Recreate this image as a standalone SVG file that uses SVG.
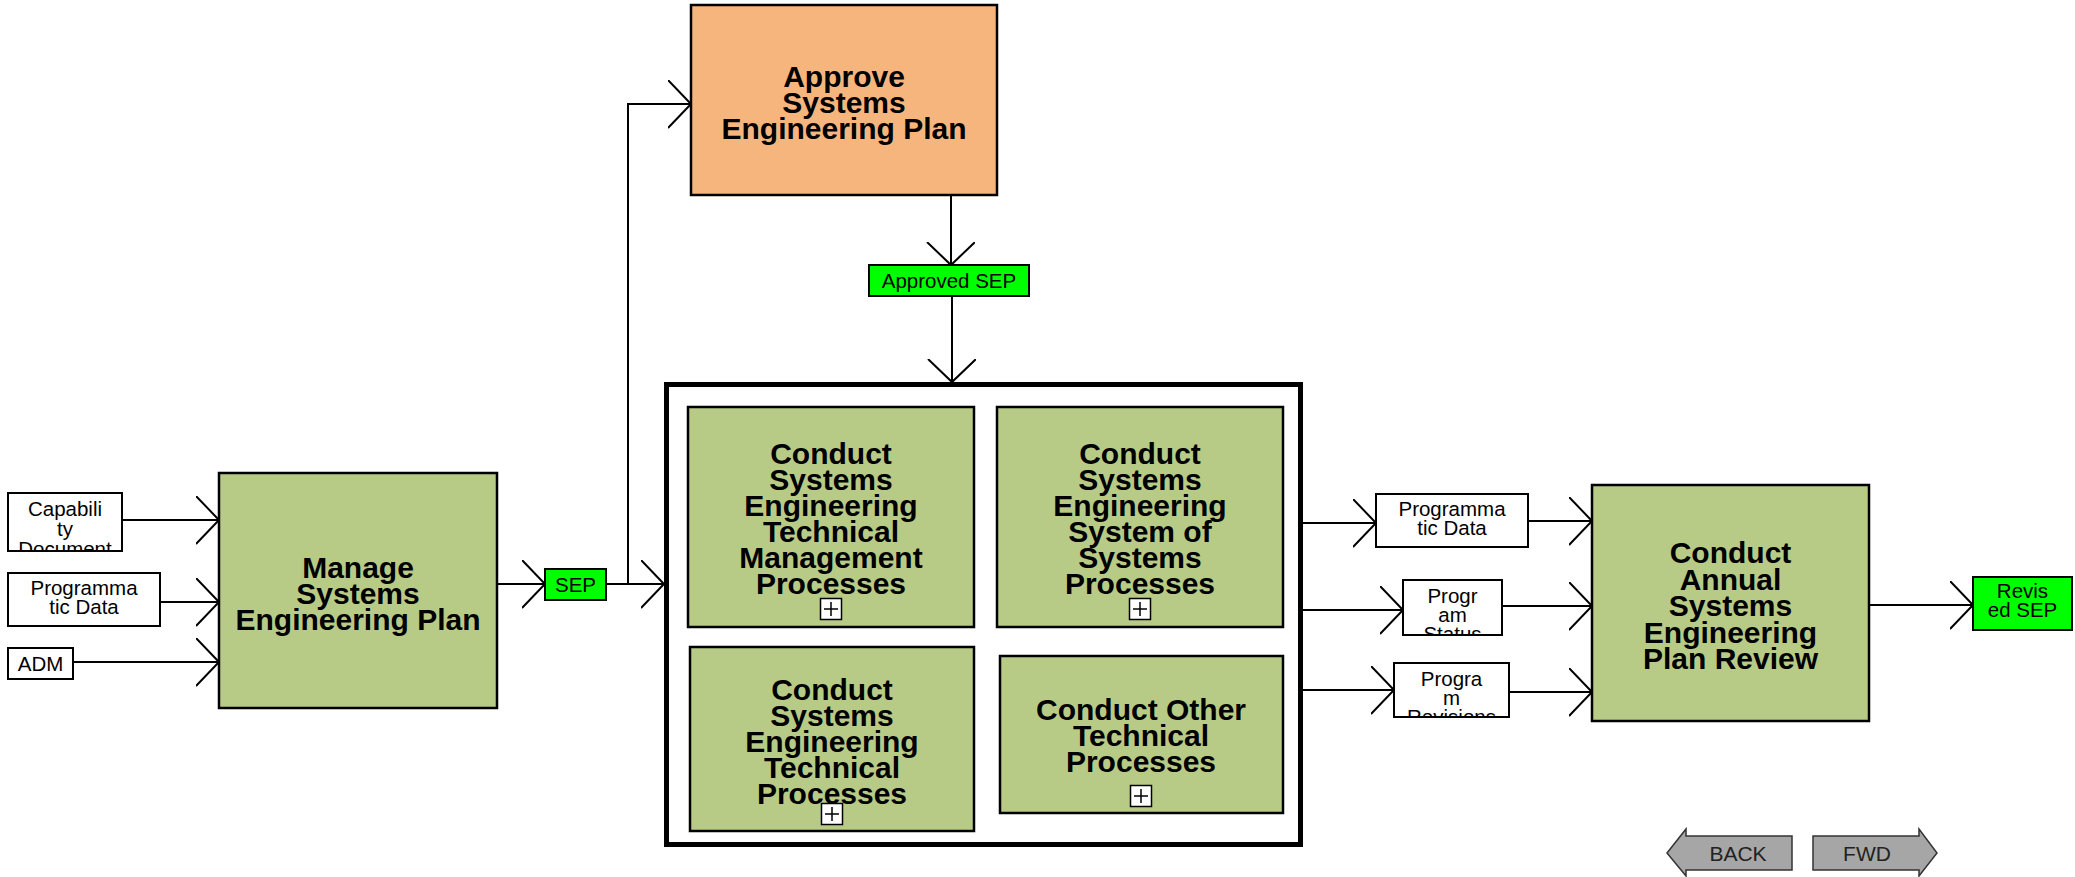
<svg xmlns="http://www.w3.org/2000/svg" width="2075" height="877" viewBox="0 0 2075 877">
<defs>
<style>
.proc{fill:#B7CB87;stroke:#000;stroke-width:2.5}
.appr{fill:#F7B57E;stroke:#000;stroke-width:2.5}
.lbl{fill:#fff;stroke:#000;stroke-width:2}
.glbl{fill:#00FF00;stroke:#000;stroke-width:2}
.bt{font-family:"Liberation Sans",Arial,sans-serif;font-weight:bold;font-size:30px;fill:#000;text-anchor:middle}
.st{font-family:"Liberation Sans",Arial,sans-serif;font-size:20.5px;fill:#000;text-anchor:middle}
.conn{fill:none;stroke:#000;stroke-width:2;marker-end:url(#ah)}
.plus rect{fill:#fff;stroke:#000;stroke-width:1.5}
.plus path{stroke:#000;stroke-width:1.5;fill:none}
.btn{fill:#A6A6A6;stroke:#333;stroke-width:1.5}
.btt{font-family:"Liberation Sans",Arial,sans-serif;font-size:21px;fill:#222;text-anchor:middle}
</style>
<marker id="ah" markerUnits="userSpaceOnUse" markerWidth="26" markerHeight="50" refX="23" refY="24" orient="auto" viewBox="0 0 26 50">
<path d="M0,0 L23,24 L0,48" fill="none" stroke="#000" stroke-width="2"/>
</marker>
<clipPath id="cCap"><rect x="9" y="494" width="112" height="56"/></clipPath>
<clipPath id="cStat"><rect x="1404" y="581" width="97" height="53"/></clipPath>
<clipPath id="cRev"><rect x="1395" y="664" width="113" height="52"/></clipPath>
<g id="plusIcon" class="plus"><rect x="-10.5" y="-10.5" width="21" height="21"/><path d="M-7,0 H7 M0,-7 V7"/></g>
</defs>
<rect width="2075" height="877" fill="#fff"/>

<g id="connectors">
<path class="conn" d="M122,520 H219"/>
<path class="conn" d="M160,602 H219"/>
<path class="conn" d="M73,662 H219"/>
<path class="conn" d="M497,584 H545"/>
<path class="conn" d="M606,584 H664"/>
<path class="conn" d="M628,584 V104 H691"/>
<path class="conn" d="M951,195 V265"/>
<path class="conn" d="M952,296 V382"/>
<path class="conn" d="M1303,523 H1376"/>
<path class="conn" d="M1303,610 H1403"/>
<path class="conn" d="M1303,690 H1394"/>
<path class="conn" d="M1528,521 H1592"/>
<path class="conn" d="M1502,606 H1592"/>
<path class="conn" d="M1509,692 H1592"/>
<path class="conn" d="M1869,605 H1973"/>
</g>

<g id="capability-document">
<rect class="lbl" x="8" y="493" width="114" height="58"/>
<text class="st" clip-path="url(#cCap)"><tspan x="65" y="516">Capabili</tspan><tspan x="65" y="536">ty</tspan><tspan x="65" y="556">Document</tspan></text>
</g>
<g id="programmatic-data-in">
<rect class="lbl" x="8" y="573" width="152" height="53"/>
<text class="st"><tspan x="84" y="595">Programma</tspan><tspan x="84" y="614">tic Data</tspan></text>
</g>
<g id="adm">
<rect class="lbl" x="8" y="648" width="65" height="31"/>
<text class="st" x="40.5" y="671">ADM</text>
</g>

<g id="manage-sep">
<rect class="proc" x="219" y="473" width="278" height="235"/>
<text class="bt"><tspan x="358" y="578">Manage</tspan><tspan x="358" y="604">Systems</tspan><tspan x="358" y="630">Engineering Plan</tspan></text>
</g>
<g id="sep">
<rect class="glbl" x="545" y="569" width="61" height="31"/>
<text class="st" x="575.5" y="592">SEP</text>
</g>

<g id="approve-sep">
<rect class="appr" x="691" y="5" width="306" height="190"/>
<text class="bt"><tspan x="844" y="87">Approve</tspan><tspan x="844" y="113">Systems</tspan><tspan x="844" y="139">Engineering Plan</tspan></text>
</g>
<g id="approved-sep">
<rect class="glbl" x="869" y="265" width="160" height="31"/>
<text class="st" x="949" y="288">Approved SEP</text>
</g>

<g id="conduct-container">
<rect x="666.5" y="384.5" width="634" height="460" fill="#fff" stroke="#000" stroke-width="5"/>
</g>
<g id="tech-mgmt">
<rect class="proc" x="688" y="407" width="286" height="220"/>
<text class="bt"><tspan x="831" y="464">Conduct</tspan><tspan x="831" y="490">Systems</tspan><tspan x="831" y="516">Engineering</tspan><tspan x="831" y="542">Technical</tspan><tspan x="831" y="568">Management</tspan><tspan x="831" y="594">Processes</tspan></text>
<use href="#plusIcon" x="831" y="609"/>
</g>
<g id="sos">
<rect class="proc" x="997" y="407" width="286" height="220"/>
<text class="bt"><tspan x="1140" y="464">Conduct</tspan><tspan x="1140" y="490">Systems</tspan><tspan x="1140" y="516">Engineering</tspan><tspan x="1140" y="542">System of</tspan><tspan x="1140" y="568">Systems</tspan><tspan x="1140" y="594">Processes</tspan></text>
<use href="#plusIcon" x="1140" y="609"/>
</g>
<g id="technical">
<rect class="proc" x="690" y="647" width="284" height="184"/>
<text class="bt"><tspan x="832" y="700">Conduct</tspan><tspan x="832" y="726">Systems</tspan><tspan x="832" y="752">Engineering</tspan><tspan x="832" y="778">Technical</tspan><tspan x="832" y="804">Processes</tspan></text>
<use href="#plusIcon" x="832" y="814"/>
</g>
<g id="other-technical">
<rect class="proc" x="1000" y="656" width="283" height="157"/>
<text class="bt"><tspan x="1141" y="720">Conduct Other</tspan><tspan x="1141" y="746">Technical</tspan><tspan x="1141" y="772">Processes</tspan></text>
<use href="#plusIcon" x="1141" y="796"/>
</g>

<g id="programmatic-data-out">
<rect class="lbl" x="1376" y="494" width="152" height="53"/>
<text class="st"><tspan x="1452" y="516">Programma</tspan><tspan x="1452" y="535">tic Data</tspan></text>
</g>
<g id="program-status">
<rect class="lbl" x="1403" y="580" width="99" height="55"/>
<text class="st" clip-path="url(#cStat)"><tspan x="1452.5" y="603">Progr</tspan><tspan x="1452.5" y="622">am</tspan><tspan x="1452.5" y="641">Status</tspan></text>
</g>
<g id="program-revisions">
<rect class="lbl" x="1394" y="663" width="115" height="54"/>
<text class="st" clip-path="url(#cRev)"><tspan x="1451.5" y="686">Progra</tspan><tspan x="1451.5" y="705">m</tspan><tspan x="1451.5" y="724">Revisions</tspan></text>
</g>

<g id="annual-review">
<rect class="proc" x="1592" y="485" width="277" height="236"/>
<text class="bt"><tspan x="1730.5" y="563">Conduct</tspan><tspan x="1730.5" y="589.5">Annual</tspan><tspan x="1730.5" y="616">Systems</tspan><tspan x="1730.5" y="642.5">Engineering</tspan><tspan x="1730.5" y="669">Plan Review</tspan></text>
</g>
<g id="revised-sep">
<rect class="glbl" x="1973" y="577" width="99" height="53"/>
<text class="st"><tspan x="2022.5" y="598">Revis</tspan><tspan x="2022.5" y="617">ed SEP</tspan></text>
</g>

<g id="back-button">
<polygon class="btn" points="1667,853 1686,829 1686,836 1792,836 1792,870 1686,870 1686,876"/>
<text class="btt" x="1738" y="861">BACK</text>
</g>
<g id="fwd-button">
<polygon class="btn" points="1813,836 1919,836 1919,829 1937,853 1919,876 1919,870 1813,870"/>
<text class="btt" x="1867" y="861">FWD</text>
</g>
</svg>
